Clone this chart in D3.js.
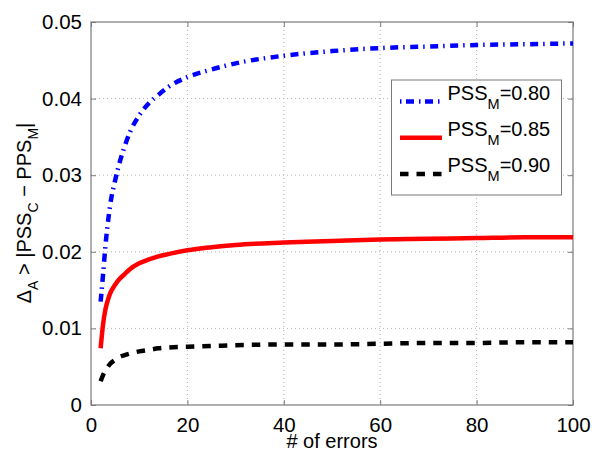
<!DOCTYPE html>
<html><head><meta charset="utf-8">
<script src="https://cdn.jsdelivr.net/npm/d3@7"></script>
<style>body{margin:0;background:#fff}svg{display:block;font-family:"Liberation Sans",Arial,sans-serif}</style>
</head><body>
<svg id="c" width="592" height="453"></svg>
<script>
const errors = [2,2.5,3,3.5,4,5,6,7,8,10,12,14,16,20,25,30,40,50,60,70,80,90,100];
const pss080 = [0.0135,0.0170,0.0208,0.0238,0.0262,0.0293,0.0318,0.0338,0.0355,0.0378,0.0394,0.0405,0.0415,0.0428,0.0438,0.0446,0.0456,0.0462,0.0466,0.0468,0.0470,0.0471,0.0472];
const pss085 = [0.0074,0.0105,0.0125,0.0137,0.0146,0.0157,0.0165,0.0171,0.0177,0.0185,0.0190,0.0194,0.0197,0.0202,0.0206,0.0209,0.0212,0.0214,0.0216,0.0217,0.0218,0.0219,0.0219];
const pss090 = [0.0031,0.0039,0.0045,0.0050,0.0054,0.0059,0.0063,0.0065,0.0067,0.0070,0.0072,0.0074,0.0075,0.0076,0.0077,0.0078,0.0079,0.0079,0.0080,0.0081,0.0081,0.0082,0.0082];
const xTicks = [0,20,40,60,80,100];
const yTicks = [0,0.01,0.02,0.03,0.04,0.05];
const seriesNames = ["0.80","0.85","0.90"];

const svg = d3.select("#c");
const L=91,R=573,T=22,B=405;
const x = d3.scaleLinear().domain([0,100]).range([L,R]);
const y = d3.scaleLinear().domain([0,0.05]).range([B,T]);
const axisCol = "#7a7a7a";

// grid
const g = svg.append("g");
g.selectAll(".gx").data(xTicks.slice(1,-1)).join("line")
  .attr("x1",d=>x(d)).attr("x2",d=>x(d)).attr("y1",T).attr("y2",B)
  .attr("stroke","#b4b4b4").attr("stroke-width",1).attr("stroke-dasharray","1,3");
g.selectAll(".gy").data(yTicks.slice(1,-1)).join("line")
  .attr("y1",d=>y(d)).attr("y2",d=>y(d)).attr("x1",L).attr("x2",R)
  .attr("stroke","#b4b4b4").attr("stroke-width",1).attr("stroke-dasharray","1,3");

// axes via d3
const fmtY = d=> d===0 ? "0" : d3.format(".2f")(d);
const ax = svg.append("g").attr("transform",`translate(0,${B})`)
  .call(d3.axisBottom(x).tickValues(xTicks).tickSize(-5).tickPadding(12));
const ay = svg.append("g").attr("transform",`translate(${L},0)`)
  .call(d3.axisLeft(y).tickValues(yTicks).tickFormat(fmtY).tickSize(-5).tickPadding(9));
const at = svg.append("g").attr("transform",`translate(0,${T})`)
  .call(d3.axisTop(x).tickValues(xTicks).tickSize(-5).tickFormat(""));
const ar = svg.append("g").attr("transform",`translate(${R},0)`)
  .call(d3.axisRight(y).tickValues(yTicks).tickSize(-5).tickFormat(""));
[ax,ay,at,ar].forEach(a=>{
  a.select(".domain").remove();
  a.selectAll(".tick line").attr("stroke",axisCol);
  a.selectAll(".tick text").attr("fill","#000").style("font-size","20.5px");
});
ax.selectAll(".tick text").attr("dy","0.71em");
svg.append("rect").attr("x",L).attr("y",T).attr("width",R-L).attr("height",B-T)
  .attr("fill","none").attr("stroke",axisCol).attr("stroke-width",1.2);

// lines
const mk = vals => errors.map((e,i)=>[e,vals[i]]);
const line = d3.line().x(d=>x(d[0])).y(d=>y(d[1])).curve(d3.curveMonotoneX);
const styles = [
  {data:pss080,color:"#0000ff",dash:"8,5,1.5,5.5"},
  {data:pss085,color:"#ff0000",dash:null},
  {data:pss090,color:"#000000",dash:"8.5,8"}
];
styles.forEach(s=>{
  const p = svg.append("path").datum(mk(s.data)).attr("d",line)
    .attr("fill","none").attr("stroke",s.color).attr("stroke-width",4.5);
  if(s.dash) p.attr("stroke-dasharray",s.dash);
});

// axis labels
svg.append("text").attr("x",(L+R)/2).attr("y",448).attr("text-anchor","middle")
  .style("font-size","20px").text("# of errors");
const yl = svg.append("text").attr("transform","translate(31,213) rotate(-90)")
  .attr("text-anchor","middle").style("font-size","20px");
yl.append("tspan").text("Δ");
yl.append("tspan").attr("dy",7).style("font-size","14px").text("A");
yl.append("tspan").attr("dy",-7).text(" > |PSS");
yl.append("tspan").attr("dy",7).style("font-size","14px").text("C");
yl.append("tspan").attr("dy",-7).text(" − PPS");
yl.append("tspan").attr("dy",7).style("font-size","14px").text("M");
yl.append("tspan").attr("dy",-7).text("|");

// legend
const lg = svg.append("g");
lg.append("rect").attr("x",391.5).attr("y",80).attr("width",170).attr("height",115)
  .attr("fill","#fff").attr("stroke",axisCol).attr("stroke-width",1);
styles.forEach((s,i)=>{
  const yy = 101.5 + i*36.2;
  const l = lg.append("line").attr("x1",400).attr("x2",442).attr("y1",yy).attr("y2",yy)
    .attr("stroke",s.color).attr("stroke-width",4.5);
  if(s.dash) l.attr("stroke-dasharray", i===0 ? "1.5,4.5,8,5" : s.dash);
  const t = lg.append("text").attr("x",447.5).attr("y",yy-1.5).style("font-size","20px");
  t.append("tspan").text("PSS");
  t.append("tspan").attr("dy",9).style("font-size","14.5px").text("M");
  t.append("tspan").attr("dy",-9).text("="+seriesNames[i]);
});
</script>
</body></html>
